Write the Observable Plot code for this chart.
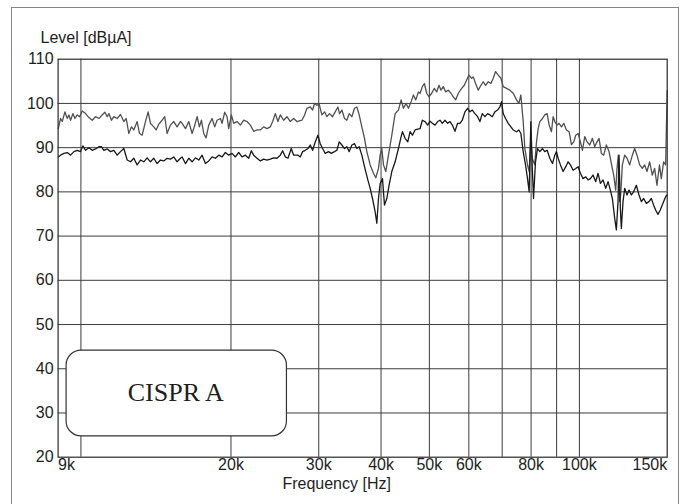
<!DOCTYPE html>
<html>
<head>
<meta charset="utf-8">
<script src="https://cdn.jsdelivr.net/npm/d3@7"></script>
<script src="https://cdn.jsdelivr.net/npm/@observablehq/plot@0.6"></script>
<style>
  html, body { margin: 0; padding: 0; background: #fff; overflow: hidden; }
  #wrap { position: relative; width: 685px; height: 504px; overflow: hidden; background: #fff; }
  #wrap svg { position: absolute; left: 0; top: 0; }
  #border { position: absolute; left: 11px; top: 6.5px; width: 666px; height: 560px; border: 1.5px solid #858585; }
</style>
</head>
<body>
<div id="wrap"><div id="border"></div></div>
<script>
// Frequencies in kHz, levels in dBµA
const upperTrace = [
  [9.007,94.3],[9.104,96.6],[9.175,95.9],[9.288,98.1],[9.389,96.6],[9.461,97.4],[9.534,96.2],[9.637,97.7],[9.727,96.6],[9.832,97.4],
  [9.938,97.0],[10.061,98.3],[10.217,97.7],[10.375,96.8],[10.536,96.2],[10.699,97.0],[10.865,96.6],[11.033,97.4],[11.170,98.0],[11.291,97.0],
  [11.378,97.7],[11.519,96.2],[11.643,97.0],[11.823,96.6],[12.007,97.5],[12.193,95.9],[12.325,96.6],[12.477,93.2],[12.632,94.7],[12.768,94.0],
  [12.966,95.9],[13.106,93.2],[13.268,92.8],[13.474,95.9],[13.641,98.1],[13.788,95.5],[14.002,94.7],[14.153,94.0],[14.328,95.3],[14.550,96.2],
  [14.730,97.0],[14.890,93.2],[15.121,95.1],[15.355,95.9],[15.593,94.7],[15.834,95.9],
  [15.960,95.5],[16.208,94.3],[16.459,95.9],[16.713,93.2],[16.920,95.1],[17.103,97.0],[17.288,94.7],[17.449,96.2],[17.637,93.2],[17.828,92.2],
  [18.049,95.1],[18.328,96.6],[18.555,94.7],[18.756,96.2],[19.047,96.6],[19.193,95.5],[19.431,98.0],[19.641,97.0],[19.793,94.3],[20.038,97.4],
  [20.254,95.5],[20.568,95.9],[20.887,95.1],[21.210,96.2],[21.539,95.9],[21.873,95.1],[22.211,93.7],[22.555,94.0],[22.905,94.0],[23.260,94.7],
  [23.620,94.3],[23.986,94.7],[24.245,95.9],[24.545,97.7],[24.849,95.9],[25.118,97.4],[25.507,96.2],[25.902,97.0],[26.304,95.9],[26.711,96.6],
  [27.125,95.9],
  [27.757,96.2],[28.101,97.4],[28.405,98.9],[28.845,99.2],[29.157,98.5],[29.427,100.0],[29.745,99.6],[30.067,99.8],[30.439,97.4],[30.816,98.1],
  [31.149,97.0],[31.535,97.7],[31.974,97.0],[32.370,98.1],[32.770,99.2],[33.023,97.7],[33.380,98.5],[33.793,96.6],[34.159,96.2],[34.529,97.7],
  [34.956,97.0],[35.389,98.9],[35.771,99.2],[36.158,97.4],[36.605,94.7],[37.058,92.1],[37.459,89.1],[38.040,86.1],[38.629,84.2],[39.047,83.2],
  [39.530,85.3],[39.835,88.3],[40.142,89.8],[40.452,86.1],[40.889,84.6],[41.396,88.3],[42.037,92.8],[42.689,97.7],[43.350,98.5],[43.886,100.8],
  [44.361,98.9],[44.910,100.0],[45.396,98.9],[45.957,100.4],[46.455,101.9],[46.957,100.8],[47.538,102.6],[47.905,102.3],
  [48.410,103.8],[48.858,104.5],[49.387,102.3],[49.921,101.5],[50.539,102.3],[51.164,103.4],[51.718,102.6],[52.277,104.1],[52.761,103.0],[53.332,103.8],
  [53.909,102.6],[54.577,103.0],[55.252,102.3],[55.850,101.5],[56.454,100.8],[57.152,102.3],[58.038,103.4],[58.756,104.1],[59.392,105.3],[60.034,106.4],
  [60.777,105.7],[61.246,106.0],[61.908,104.5],[62.674,103.0],[63.450,104.1],[64.136,104.9],[64.830,104.1],[65.632,104.9],[66.444,104.5],[67.163,105.7],
  [67.890,107.2],[68.730,106.4],[69.580,105.7],[70.333,103.8],[71.422,103.4],[72.529,103.0],[73.653,102.3],[74.793,100.8],[75.603,100.0],[76.304,101.9],
  [77.129,95.9],[77.724,89.8],[78.686,86.1],[79.293,84.6],[79.905,92.1],[80.398,87.6],[81.335,86.1],[82.020,91.3],[82.653,94.3],[83.291,95.9],
  [84.315,96.6],[85.228,97.4],[86.150,97.7],[86.948,95.1],[87.889,93.6],[88.567,97.0],[89.250,95.9],[90.216,95.1],[91.051,95.5],[92.037,94.7],
  [93.033,95.5],[94.184,94.0],[95.350,93.6],[96.381,90.7],[97.424,91.3],[98.327,92.8],[99.390,93.2],[100.465,91.3],[101.395,89.4],[102.494,92.5],
  [103.602,91.3],[104.883,90.6],[106.182,92.1],[107.330,90.2],[108.492,91.3],[109.497,92.1],[110.681,88.7],[111.879,88.3],[113.262,90.6],[114.664,89.1],
  [115.905,86.4],[117.159,83.8],[118.244,80.4],[118.973,85.3],[119.707,88.3],[120.445,77.8],[121.003,79.3],[121.936,86.1],[123.256,88.3],[124.589,87.6],
  [126.131,86.1],[127.691,88.3],[129.073,89.8],[130.470,88.3],[132.084,86.1],[133.717,85.3],[135.165,86.1],[136.627,84.6],[138.318,86.8],[140.029,83.8],
  [141.544,85.3],[143.076,81.5],[144.743,86.1],[145.964,83.0],[147.543,86.8],[148.910,86.1],[150.0,102.9]
];

const lowerTrace = [
  [9.007,87.9],[9.104,88.3],[9.246,88.7],[9.389,88.9],[9.534,88.3],[9.682,89.1],[9.832,89.4],[9.984,89.1],[10.092,90.4],[10.217,89.4],
  [10.375,90.0],[10.536,89.4],[10.699,89.7],[10.865,90.2],[11.000,90.2],[11.118,89.4],[11.291,89.7],[11.466,89.1],[11.643,89.4],[11.823,88.3],
  [12.007,89.1],[12.193,89.8],[12.382,87.2],[12.573,86.8],[12.768,87.6],[12.966,86.1],[13.167,87.2],[13.371,86.8],[13.578,87.7],[13.788,86.8],
  [14.002,87.6],[14.219,86.4],[14.439,87.2],[14.663,87.0],[14.890,87.6],[15.121,87.4],[15.355,87.9],[15.593,86.8],[15.834,87.6],
  [15.960,87.9],[16.208,86.4],[16.459,87.6],[16.713,86.8],[16.972,87.7],[17.235,87.2],[17.502,88.3],[17.774,86.4],[18.049,87.0],[18.328,87.9],
  [18.612,87.6],[18.901,88.3],[19.193,87.9],[19.490,88.9],[19.793,88.3],[20.100,88.7],[20.411,87.9],[20.727,88.9],[21.048,87.9],[21.374,88.3],
  [21.705,87.6],[21.974,89.3],[22.211,88.3],[22.555,87.6],[22.905,87.0],[23.260,87.4],[23.620,87.2],[23.986,87.4],[24.358,87.7],[24.735,87.6],
  [25.118,88.3],[25.390,89.3],[25.704,87.9],[26.022,87.6],[26.425,89.8],[26.711,88.3],
  [27.250,88.3],[27.545,87.9],[27.843,89.1],[28.187,89.4],[28.536,89.8],[28.845,90.6],[29.157,89.4],[29.518,91.3],[29.883,92.8],[30.206,90.9],
  [30.533,89.8],[30.911,88.7],[31.390,89.1],[31.778,88.7],[32.271,89.1],[32.620,89.4],[32.973,91.3],[33.380,90.6],[33.793,89.8],[34.159,90.2],
  [34.529,89.1],[34.956,90.6],[35.389,90.9],[35.771,89.8],[36.158,90.2],[36.605,88.3],[37.058,85.7],[37.633,82.7],[38.040,80.8],[38.451,78.5],
  [38.927,75.5],[39.227,72.9],[39.530,78.5],[39.835,81.9],[40.266,83.0],[40.639,77.0],[41.079,78.5],[41.523,81.5],[42.037,84.6],[42.689,86.8],
  [43.350,89.8],[43.886,92.5],[44.157,93.6],[44.703,92.1],[45.256,91.3],[45.746,93.6],[46.241,92.8],[46.813,94.0],[47.392,94.2],[47.905,94.3],
  [48.410,96.2],[49.009,95.9],[49.615,95.1],[50.152,96.0],[50.695,95.5],[51.322,95.1],[51.957,95.9],[52.519,96.2],[53.087,95.5],[53.744,96.2],
  [54.409,95.5],[54.998,95.9],[55.593,95.1],[56.281,93.7],[56.977,95.5],[57.594,95.5],[58.216,96.2],[58.936,98.1],[59.666,98.9],[60.312,98.1],
  [60.964,98.5],[61.718,97.7],[62.482,97.0],[63.158,95.9],[63.841,97.7],[64.630,97.0],[65.431,97.7],[66.139,97.4],[66.854,97.0],[67.681,98.1],
  [68.519,98.5],[69.260,99.2],[69.795,100.4],[70.333,97.7],[71.094,96.6],[71.974,95.5],[72.865,94.7],[73.653,94.0],[74.793,93.6],[75.603,94.0],
  [76.304,93.2],[77.129,89.1],[77.964,86.1],[78.686,83.0],[79.293,80.0],[79.905,95.9],[80.398,86.1],[80.894,78.5],[81.643,86.8],[82.399,89.8],
  [83.291,89.1],
  [84.315,89.8],[85.228,89.1],[86.150,89.4],[87.216,87.6],[88.294,86.4],[89.250,88.3],[89.939,89.1],[90.633,87.6],[91.614,86.1],[92.747,84.6],
  [93.894,85.7],[94.910,86.8],[95.937,86.1],[97.124,84.9],[98.327,85.3],[99.390,85.7],[100.465,84.2],[101.708,83.0],[102.966,83.4],[104.080,82.7],
  [105.206,83.0],[106.508,83.8],[107.827,82.3],[108.993,84.2],[110.172,81.9],[111.535,82.7],[112.915,80.8],[114.136,82.3],[115.372,80.4],[116.440,78.5],
  [117.700,74.0],[118.608,71.4],[119.523,77.8],[120.076,88.3],[120.817,76.3],[121.375,71.7],[122.311,77.8],[123.256,80.8],[124.589,79.3],[125.743,80.4],
  [127.103,79.3],[128.479,80.0],[130.069,81.5],[131.678,79.3],[133.102,77.8],[134.543,78.5],[136.208,77.4],[137.893,77.8],[139.385,78.5],[140.894,77.0],
  [142.199,75.9],[143.737,74.9],[145.292,75.9],[147.089,77.4],[148.910,78.9],[150.0,79.3]
];

const gridFreqs = [10000, 20000, 30000, 40000, 50000, 60000, 70000, 80000, 90000, 100000];
const gridLevels = [30, 40, 50, 60, 70, 80, 90, 100];
const yTicks = [20, 30, 40, 50, 60, 70, 80, 90, 100, 110];
const xTickFirst = [9000];
const xTickMid = [20000, 30000, 40000, 50000, 60000, 80000, 100000];
const xTickLast = [150000];
const fmtK = d => (d / 1000) + "k";

const yLabel = "Level [dBµA]";
const xLabel = "Frequency [Hz]";
const boxLabel = "CISPR A";
const labelBox = [{f1: 9360, f2: 25900, v1: 24.7, v2: 44.1, fc: 15500, vc: 34.6}];

const upper = upperTrace.map(([k, v]) => ({f: k * 1000, v}));
const lower = lowerTrace.map(([k, v]) => ({f: k * 1000, v}));

const font = "'Liberation Sans', Arial, Helvetica, sans-serif";
const ink = "#1e1e1e";

const chart = Plot.plot({
  width: 685,
  height: 504,
  marginLeft: 57.6,
  marginRight: 18.3,
  marginTop: 58.7,
  marginBottom: 47.3,
  x: {type: "log", domain: [9000, 150000], axis: null},
  y: {domain: [20, 110], axis: null},
  style: {fontFamily: font, fontSize: "16px", background: "transparent", color: ink, overflow: "visible"},
  marks: [
    Plot.ruleX(gridFreqs, {x: d => d, stroke: "#3c3c3c", strokeWidth: 1}),
    Plot.ruleY(gridLevels, {y: d => d, stroke: "#3c3c3c", strokeWidth: 1}),
    Plot.line(upper, {x: "f", y: "v", stroke: "#505050", strokeWidth: 1.3}),
    Plot.line(lower, {x: "f", y: "v", stroke: "#181818", strokeWidth: 1.3}),
    Plot.rect(labelBox, {x1: "f1", x2: "f2", y1: "v1", y2: "v2", fill: "white", stroke: "#333", strokeWidth: 1.2, rx: 15}),
    Plot.text(labelBox, {x: "fc", y: "vc", text: () => boxLabel, fontFamily: "'Liberation Serif', 'Times New Roman', serif", fontSize: 26, fill: ink}),
    Plot.frame({stroke: "#2a2a2a", strokeWidth: 1.2}),
    Plot.text(yTicks, {y: d => d, frameAnchor: "left", dx: -4.5, textAnchor: "end", text: d => String(d), fontSize: 16, fill: ink}),
    Plot.text(xTickFirst, {x: d => d, frameAnchor: "bottom", dy: 13, textAnchor: "start", text: fmtK, fontSize: 16, fill: ink}),
    Plot.text(xTickMid, {x: d => d, frameAnchor: "bottom", dy: 13, textAnchor: "middle", text: fmtK, fontSize: 16, fill: ink}),
    Plot.text(xTickLast, {x: d => d, frameAnchor: "bottom", dy: 13, textAnchor: "end", text: fmtK, fontSize: 16, fill: ink}),
    Plot.text([yLabel], {frameAnchor: "top-left", dx: -17.6, dy: -27.5, textAnchor: "start", text: d => d, fontSize: 16, fill: ink}),
    Plot.text([xLabel], {frameAnchor: "bottom", dx: -26, dy: 31.5, textAnchor: "middle", text: d => d, fontSize: 16, fill: ink})
  ]
});

document.getElementById("wrap").prepend(chart);
</script>
</body>
</html>
